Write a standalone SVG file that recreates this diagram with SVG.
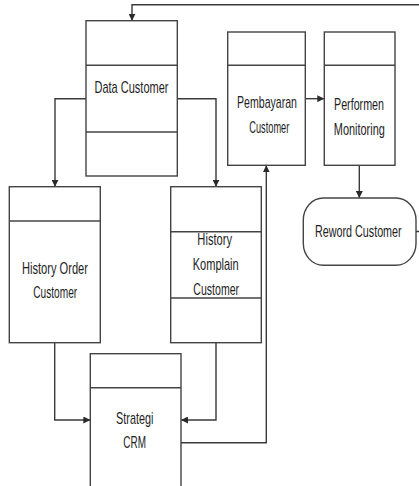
<svg xmlns="http://www.w3.org/2000/svg" width="419" height="486" viewBox="0 0 419 486">
  <defs>
    <marker id="arrow" viewBox="0 0 10 10" refX="10" refY="5" markerWidth="7" markerHeight="7" markerUnits="userSpaceOnUse" orient="auto">
      <path d="M0,0 L10,5 L0,10 Z" fill="#2a2a2a"/>
    </marker>
    <style>
      .box { fill: #fff; stroke: #444; stroke-width: 1.4; }
      .div { stroke: #444; stroke-width: 1.4; fill: none; }
      .lbl { font-family: "Liberation Sans", Arial, sans-serif; font-size: 17px; fill: #1e1e1e; text-anchor: middle; }
      .edge { fill: none; stroke: #3a3a3a; stroke-width: 1.4; marker-end: url(#arrow); }
    </style>
  </defs>
  <rect width="419" height="486" fill="#fff"/>

  <!-- connectors -->
  <g id="connectors">
    <path class="edge" d="M416,231.5 H430 V4.7 H132 V20.7"/>
    <path class="edge" d="M86,98.7 H55 V186.7"/>
    <path class="edge" d="M177.3,98.7 H216 V186.7"/>
    <path class="edge" d="M305.3,98.7 H324.3"/>
    <path class="edge" d="M359.3,165.3 V198"/>
    <path class="edge" d="M54.7,342.7 V420 H90.3"/>
    <path class="edge" d="M216,342.7 V420 H181"/>
    <path class="edge" d="M181,442.7 H266.3 V165.3"/>
  </g>

  <g id="data-customer">
    <rect class="box" x="86" y="20.7" width="91.3" height="155.3"/>
    <path class="div" d="M86,65.3 H177.3 M86,132 H177.3"/>
    <text class="lbl" x="131.5" y="92.7" textLength="74" lengthAdjust="spacingAndGlyphs">Data Customer</text>
  </g>

  <g id="pembayaran-customer">
    <rect class="box" x="227.7" y="32" width="77.6" height="133.3"/>
    <path class="div" d="M227.7,65.3 H305.3"/>
    <text class="lbl" x="267" y="108.3" textLength="60" lengthAdjust="spacingAndGlyphs">Pembayaran</text>
    <text class="lbl" x="269.3" y="133.3" textLength="40" lengthAdjust="spacingAndGlyphs">Customer</text>
  </g>

  <g id="performen-monitoring">
    <rect class="box" x="324.3" y="32" width="70.7" height="133.3"/>
    <path class="div" d="M324.3,65.3 H395"/>
    <text class="lbl" x="359" y="109.5" textLength="50" lengthAdjust="spacingAndGlyphs">Performen</text>
    <text class="lbl" x="359.3" y="134.5" textLength="51" lengthAdjust="spacingAndGlyphs">Monitoring</text>
  </g>

  <g id="reword-customer">
    <rect class="box" x="303.3" y="198" width="112.7" height="67.3" rx="20" ry="22"/>
    <text class="lbl" transform="translate(358.3,236.7) scale(0.633,1)" x="0" y="0">Reword Customer</text>
  </g>

  <g id="history-order-customer">
    <rect class="box" x="9.3" y="186.7" width="91" height="156"/>
    <path class="div" d="M9.3,221 H100.3"/>
    <text class="lbl" x="55" y="274.3" textLength="66" lengthAdjust="spacingAndGlyphs">History Order</text>
    <text class="lbl" x="55.2" y="298.3" textLength="44" lengthAdjust="spacingAndGlyphs">Customer</text>
  </g>

  <g id="history-komplain-customer">
    <rect class="box" x="170.7" y="186.7" width="90.6" height="156"/>
    <path class="div" d="M170.7,231.7 H261.3 M170.7,298 H261.3"/>
    <text class="lbl" x="214.7" y="244.5" textLength="34.7" lengthAdjust="spacingAndGlyphs">History</text>
    <text class="lbl" x="215.7" y="269.5" textLength="46" lengthAdjust="spacingAndGlyphs">Komplain</text>
    <text class="lbl" x="216.2" y="294.5" textLength="45.7" lengthAdjust="spacingAndGlyphs">Customer</text>
  </g>

  <g id="strategi-crm">
    <rect class="box" x="90.3" y="353.7" width="90.7" height="150"/>
    <path class="div" d="M90.3,387.7 H181"/>
    <text class="lbl" x="134.7" y="424" textLength="37.3" lengthAdjust="spacingAndGlyphs">Strategi</text>
    <text class="lbl" x="134.7" y="447.7" textLength="22.7" lengthAdjust="spacingAndGlyphs">CRM</text>
  </g>
</svg>
